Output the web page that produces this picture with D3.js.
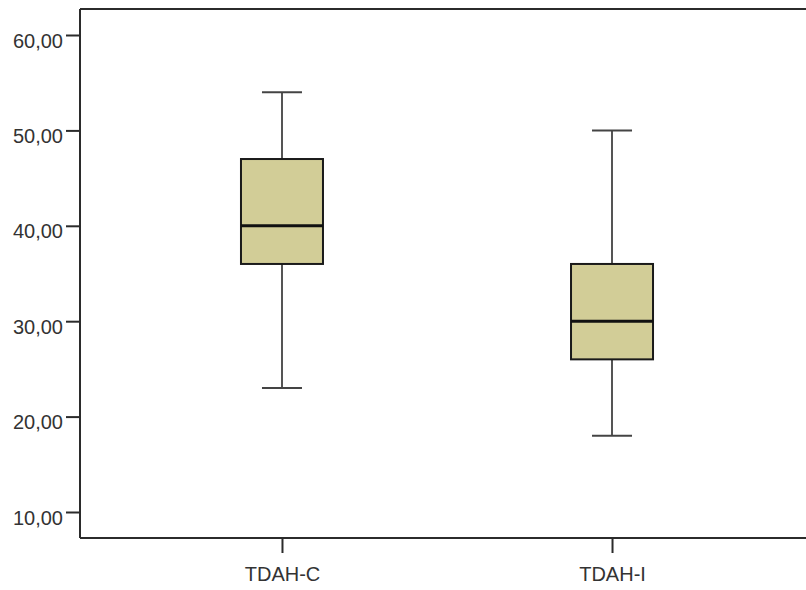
<!DOCTYPE html>
<html>
<head>
<meta charset="utf-8">
<script src="https://cdn.jsdelivr.net/npm/d3@7"></script>
<style>
  html, body { margin: 0; padding: 0; background: #fff; }
  svg { display: block; }
  text { font-family: "Liberation Sans", Arial, sans-serif; }
</style>
</head>
<body>
<svg id="chart" width="806" height="590"></svg>
<script>
// Group labels and five-number summaries for each group
const groups = ["TDAH-C", "TDAH-I"];
const whiskerLow = [23, 18];
const q1 = [36, 26];
const median = [40, 30];
const q3 = [47, 36];
const whiskerHigh = [54, 50];
const yTicks = [10, 20, 30, 40, 50, 60];

const rows = groups.map((g, i) => ({
  group: g, lo: whiskerLow[i], q1: q1[i], med: median[i], q3: q3[i], hi: whiskerHigh[i]
}));

const W = 806, H = 590;
const plotLeft = 80, plotTop = 9, plotBottom = 538, plotRight = 814;

const svg = d3.select("#chart");

const y = d3.scaleLinear().domain([10, 60]).range([512, 35]);
const x = d3.scalePoint().domain(groups).range([plotLeft, plotRight]).padding(0.612);

const boxW = 82, capW = 40;

// plot frame
const frame = svg.append("g").attr("stroke", "#2b2b2b").attr("stroke-width", 2).attr("fill", "none");
frame.append("line").attr("x1", plotLeft).attr("x2", plotLeft).attr("y1", plotTop).attr("y2", plotBottom);
frame.append("line").attr("x1", plotLeft).attr("x2", W + 5).attr("y1", plotTop).attr("y2", plotTop);
frame.append("line").attr("x1", plotLeft).attr("x2", W + 5).attr("y1", plotBottom).attr("y2", plotBottom);

// y axis
const yAxis = svg.append("g")
  .attr("transform", `translate(${plotLeft},0)`)
  .call(d3.axisLeft(y).tickValues(yTicks).tickSize(14).tickPadding(3)
    .tickFormat(d => d3.format(".2f")(d).replace(".", ",")));
yAxis.select(".domain").remove();
yAxis.selectAll(".tick line").attr("stroke", "#2b2b2b").attr("stroke-width", 2);
yAxis.selectAll(".tick text")
  .attr("fill", "#333").attr("font-size", 20).attr("dy", "0.6em");

// x axis
const xAxis = svg.append("g")
  .attr("transform", `translate(0,${plotBottom})`)
  .call(d3.axisBottom(x).tickSize(15).tickPadding(14));
xAxis.select(".domain").remove();
xAxis.selectAll(".tick line").attr("stroke", "#2b2b2b").attr("stroke-width", 2);
xAxis.selectAll(".tick text").attr("fill", "#333").attr("font-size", 20);

// boxes
const g = svg.append("g").selectAll("g").data(rows).join("g");

// whisker stems
g.append("line")
  .attr("x1", d => x(d.group)).attr("x2", d => x(d.group))
  .attr("y1", d => y(d.hi)).attr("y2", d => y(d.q3))
  .attr("stroke", "#555").attr("stroke-width", 2);
g.append("line")
  .attr("x1", d => x(d.group)).attr("x2", d => x(d.group))
  .attr("y1", d => y(d.q1)).attr("y2", d => y(d.lo))
  .attr("stroke", "#555").attr("stroke-width", 2);

// whisker caps
g.append("line")
  .attr("x1", d => x(d.group) - capW / 2).attr("x2", d => x(d.group) + capW / 2)
  .attr("y1", d => y(d.hi)).attr("y2", d => y(d.hi))
  .attr("stroke", "#444").attr("stroke-width", 2);
g.append("line")
  .attr("x1", d => x(d.group) - capW / 2).attr("x2", d => x(d.group) + capW / 2)
  .attr("y1", d => y(d.lo)).attr("y2", d => y(d.lo))
  .attr("stroke", "#444").attr("stroke-width", 2);

// interquartile box
g.append("rect")
  .attr("x", d => x(d.group) - boxW / 2)
  .attr("width", boxW)
  .attr("y", d => y(d.q3))
  .attr("height", d => y(d.q1) - y(d.q3))
  .attr("fill", "#d2cd97")
  .attr("stroke", "#1a1a1a").attr("stroke-width", 2);

// median
g.append("line")
  .attr("x1", d => x(d.group) - boxW / 2).attr("x2", d => x(d.group) + boxW / 2)
  .attr("y1", d => y(d.med)).attr("y2", d => y(d.med))
  .attr("stroke", "#111").attr("stroke-width", 3);
</script>
</body>
</html>
